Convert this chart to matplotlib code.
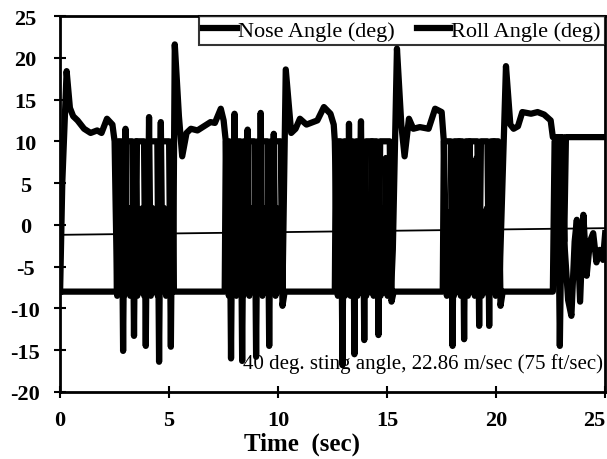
import matplotlib
matplotlib.use("Agg")
import matplotlib.pyplot as plt

# nose angle trace (deg) vs time (sec)
nose_t = [0.0, 0.1, 0.3, 0.45, 0.6, 0.8, 1.1, 1.4, 1.7, 1.9, 2.15, 2.4, 2.5,
          # oscillation 1
          2.55, 2.62, 2.7, 2.78, 2.86, 2.94, 3.0, 3.06, 3.14, 3.22, 3.3, 3.38,
          3.46, 3.5, 3.54, 3.62, 3.7, 3.78, 3.86, 3.94, 4.0, 4.08, 4.16, 4.24,
          4.32, 4.4, 4.48, 4.56, 4.62, 4.7, 4.78, 4.86, 4.94, 5.02, 5.1, 5.15,
          5.18,
          # settle 2
          5.26, 5.45, 5.6, 5.8, 6.0, 6.3, 6.6, 6.9, 7.1, 7.37, 7.5, 7.6,
          # oscillation 2
          7.66, 7.74, 7.82, 7.9, 8.0, 8.08, 8.16, 8.24, 8.32, 8.4, 8.48, 8.54,
          8.6, 8.68, 8.76, 8.84, 8.92, 9.0, 9.08, 9.14, 9.2, 9.28, 9.36, 9.44,
          9.52, 9.6, 9.68, 9.74, 9.8, 9.88, 9.96, 10.04, 10.12, 10.2,
          # settle 3
          10.35, 10.6, 10.8, 11.0, 11.3, 11.5, 11.8, 12.1, 12.4, 12.55, 12.6,
          # oscillation 3
          12.66, 12.74, 12.82, 12.9, 12.98, 13.06, 13.14, 13.2, 13.25, 13.32,
          13.4, 13.48, 13.56, 13.64, 13.72, 13.8, 13.88, 13.96, 14.04, 14.12,
          14.2, 14.3, 14.38, 14.46, 14.54, 14.62, 14.7, 14.78, 14.86, 14.94,
          15.02, 15.1, 15.18, 15.26,
          # settle 4
          15.45, 15.65, 15.8, 16.0, 16.2, 16.5, 16.9, 17.2, 17.5, 17.6,
          # oscillation 4
          17.66, 17.74, 17.82, 17.9, 17.98, 18.06, 18.14, 18.22, 18.3, 18.38,
          18.46, 18.54, 18.62, 18.7, 18.78, 18.86, 18.94, 19.02, 19.1, 19.18,
          19.26, 19.34, 19.42, 19.5, 19.58, 19.66, 19.74, 19.82, 19.9, 19.98,
          20.06, 20.14,
          # settle 5
          20.45, 20.65, 20.8, 21.0, 21.2, 21.6, 21.9, 22.2, 22.5, 22.6, 23.05,
          23.12, 23.2, 25.0]
nose_deg = [-8.0, 5.0, 18.4, 14.0, 13.0, 12.5, 11.5, 11.0, 11.3, 11.0, 12.7, 12.0, 10.0,
            2.0, -8.5, 2.0, -8.0, 1.5, -8.5, 11.5, -8.0, 2.0, -8.5, 1.5, -8.0,
            2.0, 10.0, -8.5, 1.0, -8.0, 2.0, -8.5, 1.5, -8.0, 12.9, -8.5, 2.0,
            -8.0, 1.5, -8.5, 2.0, 12.3, -8.0, 2.0, -8.5, 1.0, -8.0, 2.0, 10.0,
            -8.0,
            21.6, 13.0, 8.2, 11.0, 11.5, 11.3, 11.8, 12.3, 12.2, 13.9, 12.5, 10.0,
            2.0, -8.5, 1.5, -8.0, 13.3, -8.5, 2.0, -8.0, 1.5, -8.5, 2.0, -8.0,
            11.4, -8.5, 2.0, -8.0, 1.5, -8.5, 2.0, -8.0, 13.4, -8.5, 2.0, -8.0,
            1.5, -8.5, 2.0, -8.0, 10.9, -8.5, 2.0, -8.0, 1.5, -8.0,
            18.6, 11.0, 11.5, 12.7, 12.0, 12.2, 12.5, 14.1, 13.3, 12.0, 10.0,
            2.0, -8.5, 1.5, -8.0, 2.0, -8.5, 1.5, -8.0, 12.1, -8.5,
            2.0, -8.0, 1.5, -8.5, 2.0, 12.4, -8.0, 2.0, -8.5, 1.5,
            -8.0, 10.0, -8.5, 2.0, -8.0, 1.5, -8.5, 2.0, -8.0, 8.0,
            -8.5, 2.0, -8.0, -3.0,
            21.1, 12.0, 8.2, 12.7, 11.5, 11.7, 11.5, 13.9, 13.5, 10.0,
            2.0, -8.5, 1.5, -8.0, 2.0, -8.5, 1.5, -8.0, 10.0, -8.5,
            2.0, -8.0, 1.5, -8.5, 10.0, -8.0, 1.5, -8.5, 8.0, -8.0,
            2.0, -8.5, 1.5, -8.0, 2.0, -8.5, 1.5, -8.0, 10.0, -8.5,
            2.0, -8.0,
            19.0, 12.0, 11.5, 11.8, 13.5, 13.3, 13.5, 13.2, 12.5, 10.5, 10.5,
            -2.0, 10.5, 10.5]

# roll angle trace (deg) vs time (sec)
roll_t = [0.0, 2.6, 2.65, 2.81, 2.89, 2.97, 3.31, 3.39, 3.47, 3.85, 3.93, 4.01,
          4.46, 4.54, 4.62, 5.0, 5.08, 5.16, 5.22,
          7.55, 7.6, 7.76, 7.84, 7.92, 8.27, 8.35, 8.43, 8.91, 8.99, 9.07, 9.51,
          9.59, 9.67, 10.12, 10.2, 10.3,
          12.6, 12.65, 12.87, 12.95, 13.03, 13.42, 13.5, 13.58, 13.87, 13.95,
          14.03, 14.52, 14.6, 14.68, 15.12, 15.2, 15.3,
          17.55, 17.6, 17.92, 18.0, 18.08, 18.45, 18.53, 18.61, 19.14, 19.22,
          19.3, 19.6, 19.68, 19.76, 20.1, 20.2, 20.3,
          22.6, 22.68, 22.82, 22.92, 23.02, 23.15, 23.3, 23.45, 23.6, 23.7,
          23.85, 24.0, 24.15, 24.3, 24.45, 24.6, 24.75, 24.9, 25.0]
roll_deg = [-8.0, -8.0, 10.0, 10.0, -15.1, 10.0, 10.0, -13.3, 10.0, 10.0, -14.5, 10.0,
            10.0, -16.4, 10.0, 10.0, -14.6, 10.0, -8.0,
            -8.0, 10.0, 10.0, -16.0, 10.0, 10.0, -16.3, 10.0, 10.0, -15.8, 10.0, 10.0,
            -14.5, 10.0, 10.0, -9.7, -8.0,
            -8.0, 10.0, 10.0, -16.8, 10.0, 10.0, -15.5, 10.0, 10.0, -13.8,
            10.0, 10.0, -13.2, 10.0, 10.0, -9.2, -8.0,
            -8.0, 10.0, 10.0, -14.5, 10.0, 10.0, -13.7, 10.0, 10.0, -12.1,
            10.0, 10.0, -12.1, 10.0, 10.0, -9.7, -8.0,
            -8.0, 10.0, 10.0, -14.5, 5.0, -3.0, -9.0, -10.9, -2.0, 0.6,
            -9.2, 1.2, -6.1, -2.0, -1.0, -4.5, -3.0, -4.2, -1.0]

# thin reference trace
ref_t = [0.0, 25.0]
ref_deg = [-1.2, -0.4]

x_ticks = [0, 5, 10, 15, 20, 25]
y_ticks = [-20, -15, -10, -5, 0, 5, 10, 15, 20, 25]
caption = '40 deg. sting angle, 22.86 m/sec (75 ft/sec)'

plt.rcParams['font.family'] = ['Liberation Serif', 'DejaVu Serif']
plt.rcParams['axes.unicode_minus'] = False
plt.rcParams['path.simplify'] = False

fig = plt.figure(figsize=(6.07, 4.60), dpi=100)
ax = fig.add_axes([0.099, 0.146, 0.898, 0.817])

ax.plot(ref_t, ref_deg, color='black', lw=1.3)
ax.plot(nose_t, nose_deg, color='black', lw=4.5, solid_joinstyle='round',
        label='Nose Angle (deg)')
ax.plot(roll_t, roll_deg, color='black', lw=4.5, solid_joinstyle='round',
        label='Roll Angle (deg)')

ax.set_xlim(0, 25)
ax.set_ylim(-20, 25)
ax.set_xticks(x_ticks)
ax.set_yticks(y_ticks)
ax.tick_params(direction='inout', length=8, width=1.5, labelsize=16)
ax.tick_params(axis='x', pad=9)
ax.tick_params(axis='y', pad=21)
for lab in ax.get_xticklabels() + ax.get_yticklabels():
    lab.set_fontweight('bold')
for lab in ax.get_yticklabels():
    lab.set_ha('center')
ax.get_xticklabels()[-1].set_ha('right')
for s in ax.spines.values():
    s.set_linewidth(2)

ax.set_xlabel('Time  (sec)', fontsize=18, fontweight='bold')
ax.xaxis.set_label_coords(0.444, -0.105)

leg = ax.legend(loc='upper right', ncol=2, fontsize=16, frameon=True,
                fancybox=False, edgecolor='black', borderaxespad=0,
                handlelength=1.5, handletextpad=0.05, columnspacing=1.0,
                borderpad=0.2)
leg.get_frame().set_linewidth(1.5)

ax.text(24.9, -17.2, caption, ha='right', va='baseline', fontsize=15)

fig.savefig('out.png', dpi=100)
